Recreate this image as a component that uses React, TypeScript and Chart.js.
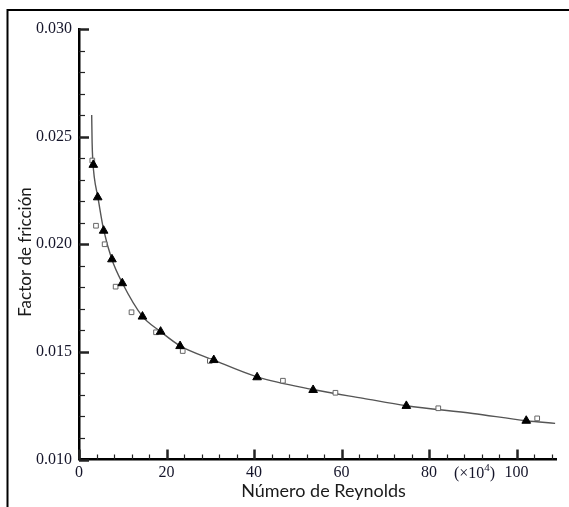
import React, { useEffect, useRef } from "react";
import { Chart, registerables } from "chart.js";

Chart.register(...registerables);

// Reynolds number (x10^4) and friction factor
const triX = [3.27, 4.27, 5.63, 7.53, 9.89, 14.5, 18.65, 23.1, 30.8, 40.7, 53.5, 74.8, 102.2];
const triY = [0.02369, 0.02218, 0.02063, 0.0193, 0.01819, 0.01664, 0.01594, 0.01527, 0.01462, 0.01382, 0.01323, 0.01249, 0.0118];

const sqX = [3.04, 3.88, 5.86, 8.37, 12.0, 17.6, 23.7, 29.9, 46.6, 58.6, 82.1, 104.7];
const sqY = [0.02389, 0.02086, 0.02, 0.01803, 0.01684, 0.01591, 0.01504, 0.01458, 0.01366, 0.0131, 0.01238, 0.01191];

const curveX = [2.9, 3.0, 3.15, 3.5, 4.3, 5.6, 7.5, 9.9, 14.5, 18.6, 23.1, 30.8, 40.7, 53.5, 65, 74.8, 90, 102.2, 108.8];
const curveY = [0.026, 0.0247, 0.0239, 0.0231, 0.0222, 0.0207, 0.0193, 0.0182, 0.01665, 0.01595, 0.01528, 0.01462, 0.01384, 0.01325, 0.01284, 0.0125, 0.01214, 0.0118, 0.01168];

const xMajorTicks = [0, 20, 40, 60, 80, 100];
const yMajorTicks = [0.01, 0.015, 0.02, 0.025, 0.03];
const xTitle = "Número de Reynolds";
const yTitle = "Factor de fricción";
const xUnitText = "(×10";
const xUnitExp = "4";

const SERIF = "'Liberation Serif', 'Times New Roman', serif";
const SANS = "Lato, 'Open Sans', sans-serif";
const LABEL_COLOR = "#15152a";

const decor = {
  id: "decor",
  beforeDraw(chart: any) {
    const { ctx } = chart;
    ctx.save();
    ctx.fillStyle = "#ffffff";
    ctx.fillRect(0, 0, chart.width, chart.height);
    ctx.strokeStyle = "#000";
    ctx.lineWidth = 2;
    ctx.beginPath();
    ctx.moveTo(7.5, 10);
    ctx.lineTo(chart.width, 10);
    ctx.moveTo(7.5, 9);
    ctx.lineTo(7.5, chart.height);
    ctx.stroke();
    ctx.restore();
  },
  afterDraw(chart: any) {
    const { ctx, chartArea } = chart;
    const xs = chart.scales.x;
    const ys = chart.scales.y;
    ctx.save();
    ctx.strokeStyle = "#222";
    // y ticks (inward)
    for (let i = 0; i <= 20; i++) {
      const v = 0.01 + i * 0.001;
      const py = Math.round(ys.getPixelForValue(v)) + 0.5;
      const major = i % 5 === 0;
      ctx.lineWidth = major ? 2.5 : 1.2;
      ctx.beginPath();
      ctx.moveTo(chartArea.left, py);
      ctx.lineTo(chartArea.left + (major ? 10 : 6), py);
      ctx.stroke();
    }
    // x ticks (inward)
    for (let v = 0; v <= 108; v += 4) {
      const px = Math.round(xs.getPixelForValue(v)) + 0.5;
      const major = v % 20 === 0;
      ctx.lineWidth = major ? 2.5 : 1.2;
      ctx.beginPath();
      ctx.moveTo(px, chartArea.bottom);
      ctx.lineTo(px, chartArea.bottom - (major ? 10 : 5));
      ctx.stroke();
    }
    // unit label
    ctx.fillStyle = LABEL_COLOR;
    ctx.font = `16px ${SERIF}`;
    ctx.textBaseline = "middle";
    const ux = xs.getPixelForValue(90.4);
    const w1 = ctx.measureText(xUnitText).width;
    ctx.font = `11px ${SERIF}`;
    const w2 = ctx.measureText(xUnitExp).width;
    ctx.font = `16px ${SERIF}`;
    const w3 = ctx.measureText(")").width;
    let sx = ux - (w1 + w2 + w3) / 2;
    const ly = chartArea.bottom + 14;
    ctx.textAlign = "left";
    ctx.fillText(xUnitText, sx, ly);
    sx += w1;
    ctx.font = `11px ${SERIF}`;
    ctx.fillText(xUnitExp, sx, ly - 5);
    sx += w2;
    ctx.font = `16px ${SERIF}`;
    ctx.fillText(")", sx, ly);
    // titles
    ctx.fillStyle = "#1a1a1a";
    ctx.textAlign = "center";
    ctx.textBaseline = "middle";
    ctx.font = `18px ${SANS}`;
    ctx.fillText(xTitle, 323.5, 491);
    ctx.font = `17px ${SANS}`;
    ctx.translate(26, 252);
    ctx.rotate(-Math.PI / 2);
    ctx.fillText(yTitle, 0, 0);
    ctx.restore();
  },
};

export default function App() {
  const ref = useRef<HTMLCanvasElement>(null);
  useEffect(() => {
    const canvas = ref.current;
    if (!canvas) return;
    const chart = new Chart(canvas, {
      type: "scatter",
      data: {
        datasets: [
          {
            label: "triangles",
            data: triX.map((x, i) => ({ x, y: triY[i] })),
            pointStyle: "triangle",
            pointRadius: 5,
            backgroundColor: "#000",
            borderColor: "#000",
            borderWidth: 1,
            showLine: false,
          },
          {
            label: "squares",
            data: sqX.map((x, i) => ({ x, y: sqY[i] })),
            pointStyle: "rect",
            pointRadius: 3.3,
            backgroundColor: "#fff",
            borderColor: "#666",
            borderWidth: 1,
            showLine: false,
          },
          {
            label: "curve",
            type: "line",
            data: curveX.map((x, i) => ({ x, y: curveY[i] })),
            borderColor: "#555",
            borderWidth: 1.4,
            pointRadius: 0,
            fill: false,
            cubicInterpolationMode: "monotone",
            showLine: true,
          } as any,
        ],
      },
      options: {
        responsive: false,
        animation: false,
        events: [],
        layout: { padding: { left: 10, top: 29, right: 13, bottom: 0 } },
        plugins: { legend: { display: false }, tooltip: { enabled: false } },
        scales: {
          x: {
            type: "linear",
            min: 0,
            max: 109,
            afterBuildTicks: (s: any) => {
              s.ticks = xMajorTicks.map((v) => ({ value: v }));
            },
            afterFit: (s: any) => {
              s.height = 47.5;
            },
            ticks: {
              font: { family: SERIF, size: 16 },
              color: LABEL_COLOR,
              padding: 4,
              maxRotation: 0,
              autoSkip: false,
            },
            grid: { display: false, drawTicks: false },
            border: { display: true, color: "#000", width: 2.5 },
          },
          y: {
            type: "linear",
            min: 0.01,
            max: 0.03,
            afterBuildTicks: (s: any) => {
              s.ticks = yMajorTicks.map((v) => ({ value: v }));
            },
            afterFit: (s: any) => {
              s.width = 69;
            },
            ticks: {
              font: { family: SERIF, size: 16 },
              color: LABEL_COLOR,
              padding: 7,
              autoSkip: false,
              callback: (v: any) => Number(v).toFixed(3),
            },
            grid: { display: false, drawTicks: false },
            border: { display: true, color: "#000", width: 2.5 },
          },
        },
      },
      plugins: [decor],
    });
    return () => chart.destroy();
  }, []);
  return (
    <div style={{ position: "absolute", left: 0, top: 0, width: 569, height: 507 }}>
      <canvas ref={ref} width={569} height={507} style={{ display: "block" }} />
    </div>
  );
}
